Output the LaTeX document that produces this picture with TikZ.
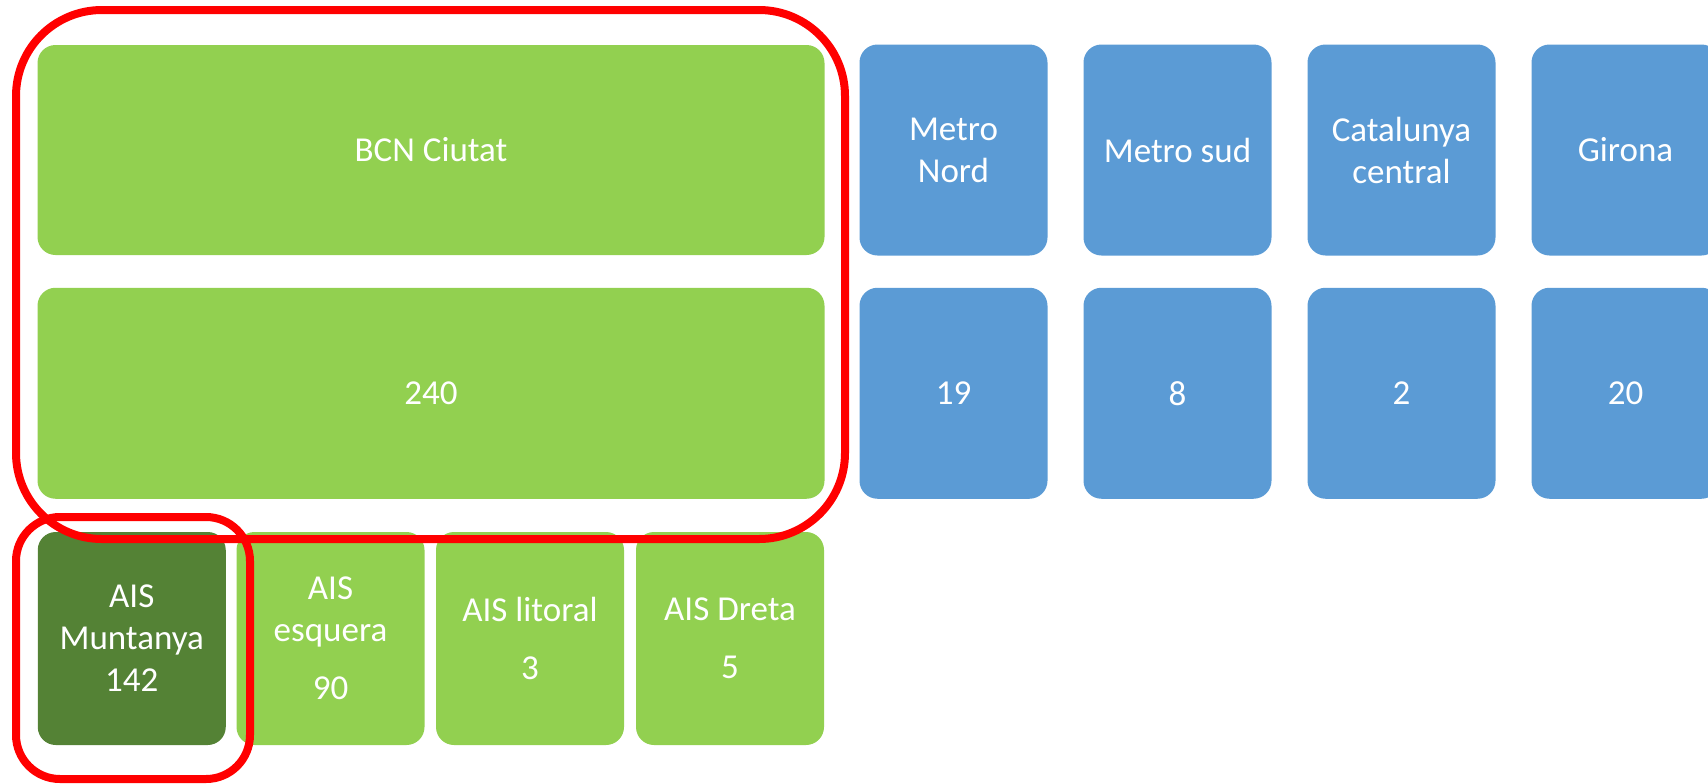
\documentclass[tikz,border=0pt]{standalone}
\usepackage{fontspec}
\setmainfont{Carlito}
\definecolor{lightgreen}{HTML}{92D050}
\definecolor{darkgreen}{HTML}{548235}
\definecolor{zoneblue}{HTML}{5B9BD5}
\definecolor{markred}{HTML}{FF0000}

\begin{document}
\begin{tikzpicture}[x=0.5pt, y=-0.5pt,
    tile/.style={rounded corners=9pt, inner sep=0pt, text=white, align=center,
        font=\fontsize{17.5}{21}\selectfont, minimum width=94pt},
    greentile/.style={tile, fill=lightgreen},
    bluetile/.style={tile, fill=zoneblue, minimum height=105.5pt},
    redring/.style={draw=markred, line width=4pt}]
            \clip (0,0) rectangle (1708,783);
            \node [greentile, minimum width=393.5pt, minimum height=105pt] (bcn) at (431,150) {BCN Ciutat};
            \node [greentile, minimum width=393.5pt, minimum height=105.5pt] (bcnnum) at (431,393.25) {240};
            \node [bluetile] (nord) at (953.5,150) {Metro\\Nord};
            \node [bluetile] (nordnum) at (953.5,393.25) {19};
            \node [bluetile] (sud) at (1177.5,150) {Metro sud};
            \node [bluetile] (sudnum) at (1177.5,393.25) {8};
            \node [bluetile] (central) at (1401.5,150) {Catalunya\\central};
            \node [bluetile] (centralnum) at (1401.5,393.25) {2};
            \node [bluetile] (girona) at (1625.5,150) {Girona};
            \node [bluetile] (gironanum) at (1625.5,393.25) {20};
            \node [tile, fill=darkgreen, minimum height=106.5pt] (muntanya) at (131.75,638.5) {AIS\\Muntanya\\142};
            \node [greentile, minimum height=106.5pt] (esquera) at (330.5,638.5) {AIS\\esquera\\[8pt]90};
            \node [greentile, minimum height=106.5pt] (litoral) at (530,638.5) {AIS litoral\\[8pt]3};
            \node [greentile, minimum height=106.5pt] (dreta) at (730,638.5) {AIS Dreta\\[8pt]5};
            \draw [redring, rounded corners=43pt] (16,10) rectangle (845,539);
            \draw [redring, rounded corners=22pt] (16,517) rectangle (250,779);
        \end{tikzpicture}
\end{document}
